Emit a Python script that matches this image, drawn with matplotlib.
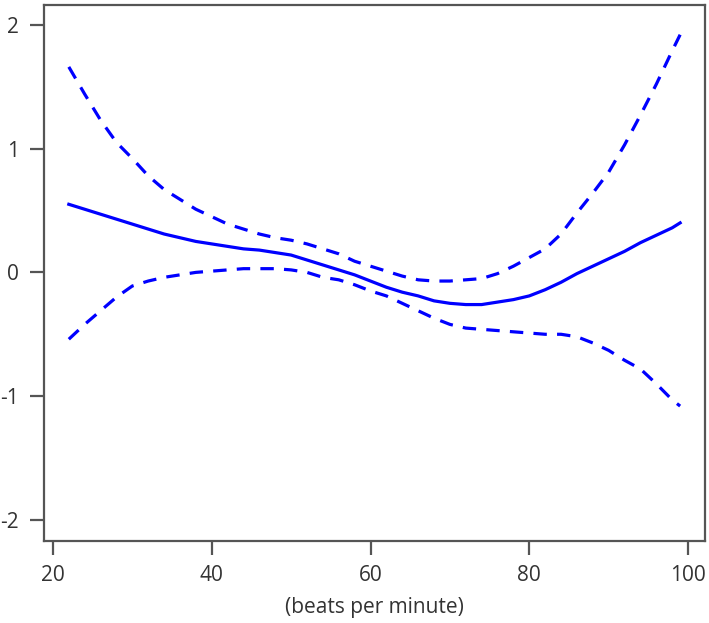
import numpy as np
import matplotlib.pyplot as plt

plt.rcParams['font.family'] = ['Open Sans', 'DejaVu Sans']
plt.rcParams['axes.unicode_minus'] = False

# heart rate (beats per minute)
hr = [22, 24, 26, 28, 30, 32, 34, 36, 38, 40, 42, 44, 46, 48, 50, 52, 54, 56, 58, 60,
      62, 64, 66, 68, 70, 72, 74, 76, 78, 80, 82, 84, 86, 88, 90, 92, 94, 96, 98, 99]

# estimated effect
est = [0.55, 0.51, 0.47, 0.43, 0.39, 0.35, 0.31, 0.28, 0.25, 0.23, 0.21, 0.19, 0.18, 0.16,
       0.14, 0.10, 0.06, 0.02, -0.02, -0.07, -0.12, -0.16, -0.19, -0.23, -0.25, -0.26,
       -0.26, -0.24, -0.22, -0.19, -0.14, -0.08, -0.01, 0.05, 0.11, 0.17, 0.24, 0.30, 0.36, 0.40]

# upper 95% CI
upper = [1.66, 1.44, 1.23, 1.05, 0.92, 0.78, 0.67, 0.59, 0.51, 0.45, 0.39, 0.35, 0.31, 0.28,
         0.26, 0.23, 0.19, 0.15, 0.09, 0.05, 0.01, -0.03, -0.06, -0.07, -0.07, -0.06,
         -0.05, -0.01, 0.05, 0.12, 0.19, 0.31, 0.48, 0.64, 0.81, 1.03, 1.27, 1.52, 1.79, 1.92]

# lower 95% CI
lower = [-0.54, -0.42, -0.31, -0.20, -0.11, -0.07, -0.04, -0.02, 0.00, 0.01, 0.02, 0.03,
         0.03, 0.03, 0.02, 0.00, -0.04, -0.06, -0.10, -0.15, -0.19, -0.25, -0.31, -0.37,
         -0.42, -0.45, -0.46, -0.47, -0.48, -0.49, -0.50, -0.50, -0.52, -0.57, -0.63,
         -0.71, -0.78, -0.90, -1.03, -1.08]

fig = plt.figure(figsize=(7.09, 6.23), dpi=100)
ax = fig.add_axes([0.062, 0.1316, 0.932, 0.8604])

blue = '#0000ff'
ax.plot(hr, est, color=blue, lw=2.3)
ax.plot(hr, upper, color=blue, lw=2.3, dashes=(4.2, 3.2))
ax.plot(hr, lower, color=blue, lw=2.3, dashes=(4.2, 3.2))

ax.set_xlim(18.87, 102.1)
ax.set_ylim(-2.17, 2.16)
ax.set_xticks([20, 40, 60, 80, 100])
ax.set_yticks([-2, -1, 0, 1, 2])

for s in ax.spines.values():
    s.set_color('#555555')
    s.set_linewidth(1.6)

ax.tick_params(axis='both', length=10, width=1.6, color='#555555',
               labelsize=15, labelcolor='#333333')
ax.tick_params(axis='x', pad=7)
ax.tick_params(axis='y', pad=8)

ax.set_xlabel('(beats per minute)', fontsize=15, color='#333333', labelpad=8)

fig.savefig('out.png', dpi=100)
